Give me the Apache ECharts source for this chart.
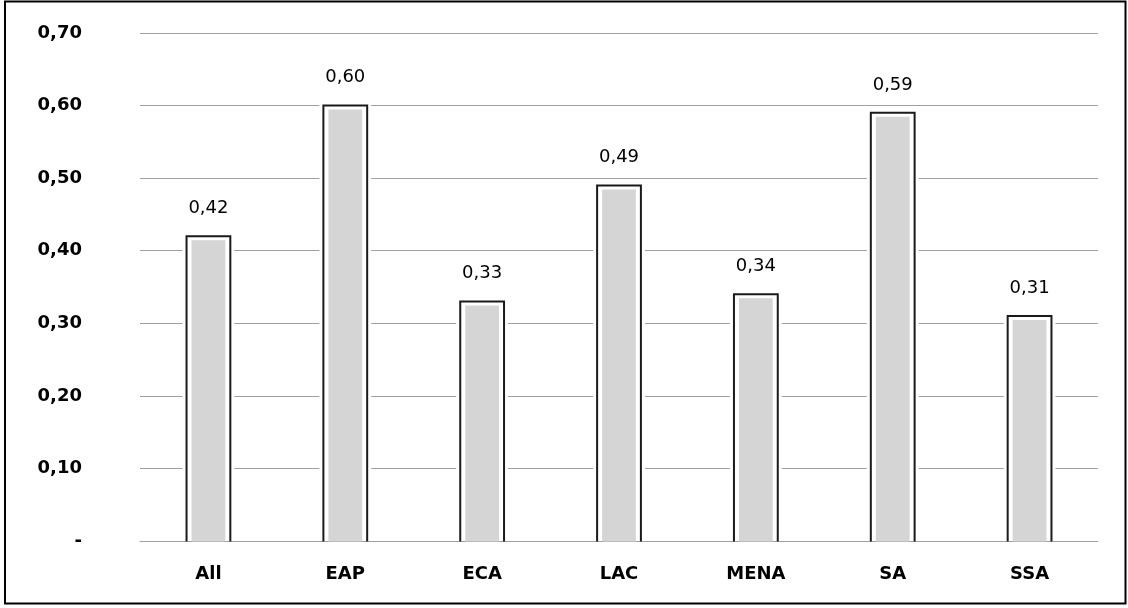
<!DOCTYPE html>
<html>
<head>
<meta charset="utf-8">
<script src="https://cdn.jsdelivr.net/npm/echarts@6/dist/echarts.min.js"></script>
<style>
  html, body { margin: 0; padding: 0; background: #fff; }
  #chart { width: 1128px; height: 608px; }
</style>
</head>
<body>
<div id="chart"></div>
<script>
// Regions and their values
const categories = ['All', 'EAP', 'ECA', 'LAC', 'MENA', 'SA', 'SSA'];
const values = [0.42, 0.60, 0.33, 0.49, 0.34, 0.59, 0.31];
const yTicks = [0, 0.1, 0.2, 0.3, 0.4, 0.5, 0.6, 0.7];

const FONT = '"DejaVu Sans", Verdana, sans-serif';
const fmt = v => v.toFixed(2).replace('.', ',');

const chart = echarts.init(document.getElementById('chart'), null, { renderer: 'canvas' });

// Each bar: white halo that cuts the gridlines, black outline on three sides,
// then a grey fill inset from the outline.
function renderBar(params, api) {
  const idx = api.value(0);
  const val = api.value(1);
  const top = api.coord([idx, val]);
  const base = api.coord([idx, 0]);
  const band = api.size([1, 0])[0];
  const w = band * 0.32;
  const x0 = top[0] - w / 2;
  const x1 = top[0] + w / 2;
  const yTop = top[1];
  const yBase = base[1];
  return {
    type: 'group',
    children: [
      { type: 'rect', shape: { x: x0 - 4, y: yTop - 4, width: w + 8, height: yBase - yTop + 3.5 },
        style: { fill: '#ffffff' } },
      { type: 'rect', shape: { x: x0 + 5, y: yTop + 4, width: w - 10, height: yBase - yTop - 3.5 },
        style: { fill: '#d5d5d5' } },
      { type: 'polyline', shape: { points: [[x0, yBase + 0.5], [x0, yTop], [x1, yTop], [x1, yBase + 0.5]] },
        style: { stroke: '#1a1a1a', lineWidth: 2, fill: null } },
      { type: 'text', x: top[0], y: yTop - 28,
        style: { text: fmt(val), font: '18px ' + FONT, fill: '#000', align: 'center', verticalAlign: 'middle' } }
    ]
  };
}

chart.setOption({
  animation: false,
  backgroundColor: '#ffffff',
  grid: { left: 140, right: 30, top: 33, bottom: 67, containLabel: false },
  graphic: [{
    type: 'rect', z: 100, silent: true,
    shape: { x: 5, y: 1.5, width: 1120.5, height: 602 },
    style: { fill: null, stroke: '#000', lineWidth: 2 }
  }],
  xAxis: {
    type: 'category',
    data: categories,
    axisLine: { show: true, lineStyle: { color: '#a0a0a0', width: 1 } },
    axisTick: { show: false },
    axisLabel: { margin: 24, color: '#000', fontFamily: FONT, fontSize: 18, fontWeight: 'bold' }
  },
  yAxis: {
    type: 'value',
    min: yTicks[0],
    max: yTicks[yTicks.length - 1],
    interval: 0.1,
    axisLine: { show: false },
    axisTick: { show: false },
    splitLine: { lineStyle: { color: '#a0a0a0', width: 1 } },
    axisLabel: {
      margin: 58, color: '#000', fontFamily: FONT, fontSize: 18, fontWeight: 'bold',
      formatter: v => (Math.abs(v) < 1e-9 ? '-' : fmt(v))
    }
  },
  series: [{
    type: 'custom',
    renderItem: renderBar,
    data: values.map((v, i) => [i, v]),
    encode: { x: 0, y: 1 }
  }]
});
</script>
</body>
</html>
